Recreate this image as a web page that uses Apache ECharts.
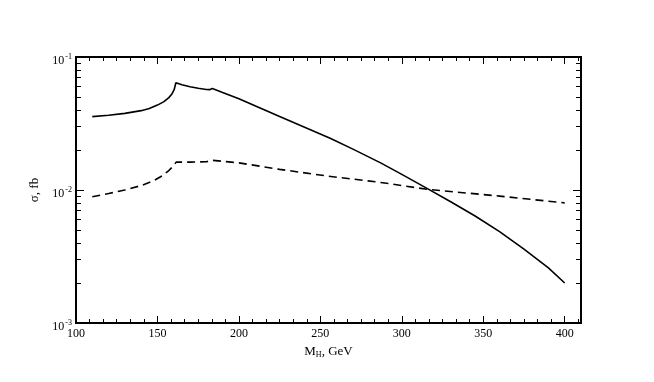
<!DOCTYPE html>
<html>
<head>
    <meta charset="utf-8">
    <title>sigma vs MH</title>
    <script src="https://cdnjs.cloudflare.com/ajax/libs/echarts/6.0.0/echarts.min.js"></script>
</head>
<body style="margin:0;background:#fff">
    <div id="main" style="width:654px;height:382px;"></div>
    <script type="text/javascript">
        // solid curve
        var solidMass = [110, 120, 130, 140, 145, 150, 154, 157, 159, 160.3, 161.3, 165, 170, 175, 180, 182, 183.7, 190, 200, 225, 256, 270, 287, 300, 316, 330, 345, 360, 375, 390, 400];
        var solidSigma = [0.0356, 0.0365, 0.0377, 0.0395, 0.0410, 0.0435, 0.0462, 0.0495, 0.053, 0.057, 0.064, 0.0618, 0.0597, 0.0582, 0.0570, 0.0568, 0.0580, 0.0540, 0.0485, 0.0357, 0.0245, 0.0203, 0.0160, 0.0131, 0.0102, 0.00815, 0.00638, 0.00486, 0.00359, 0.0026, 0.0020];
        // dashed curve
        var dashMass = [110, 120, 130, 140, 148, 153, 157, 160, 161.5, 170, 180, 184, 200, 225, 255, 287, 316, 360, 400];
        var dashSigma = [0.0089, 0.0094, 0.0100, 0.0108, 0.0118, 0.0128, 0.0140, 0.0153, 0.0162, 0.0162, 0.0163, 0.0167, 0.0160, 0.0143, 0.0127, 0.0114, 0.0101, 0.0090, 0.0080];

        var xLabels = [100, 150, 200, 250, 300, 350, 400];
        var yLabels = [0.001, 0.01, 0.1];

        var xMinor = [];
        for (var i = 1; i <= 37; i++) {
            var v = 100 + i * 50 / 6;
            if (i % 6 !== 0 && v < 410) xMinor.push(v);
        }
        var yMinor = [];
        [0.001, 0.01].forEach(function (d) {
            for (var k = 2; k <= 9; k++) yMinor.push(d * k);
        });

        var font = 'Liberation Serif';
        var pairs = function (xs, ys) {
            return xs.map(function (x, i) { return [x, ys[i]]; });
        };

        function xAxis(pos, vals, len, labels) {
            return {
                type: 'value', position: pos, min: 100, max: 410,
                axisLine: { show: true, onZero: false, lineStyle: { color: '#000', width: 2 } },
                axisTick: { show: true, inside: true, length: len, customValues: vals, lineStyle: { color: '#000', width: 1 } },
                axisLabel: labels ? {
                    show: true, customValues: vals, margin: 5,
                    color: '#000', fontFamily: font, fontSize: 12
                } : { show: false },
                splitLine: { show: false }
            };
        }
        function yAxis(pos, vals, len, labels) {
            return {
                type: 'log', logBase: 10, position: pos, min: 0.001, max: 0.1,
                axisLine: { show: true, onZero: false, lineStyle: { color: '#000', width: 2 } },
                axisTick: { show: true, inside: true, length: len, customValues: vals, lineStyle: { color: '#000', width: 1 } },
                axisLabel: labels ? {
                    show: true, customValues: vals, margin: 4,
                    formatter: function (v) {
                        return '{b|10}{s|' + Math.round(Math.log10(v)) + '}';
                    },
                    rich: {
                        b: { fontFamily: font, fontSize: 12, color: '#000', padding: [8, 0, 0, 0] },
                        s: { fontFamily: font, fontSize: 8, color: '#000', padding: [0, 0, 0, 1] }
                    }
                } : { show: false },
                splitLine: { show: false }
            };
        }

        var xa0 = xAxis('bottom', xLabels, 7, true);
        xa0.name = '{a|M}{s|H}{a|, GeV}';
        xa0.nameLocation = 'middle';
        xa0.nameGap = 18;
        xa0.nameTextStyle = {
            rich: {
                a: { fontFamily: font, fontSize: 13, color: '#000' },
                s: { fontFamily: font, fontSize: 8, color: '#000', padding: [8, 0, 0, 0] }
            }
        };
        var ya0 = yAxis('left', yLabels, 8, true);
        ya0.name = 'σ, fb';
        ya0.nameLocation = 'middle';
        ya0.nameGap = 34;
        ya0.nameTextStyle = { fontFamily: font, fontSize: 13, color: '#000' };

        var myChart = echarts.init(document.getElementById('main'));
        var option = {
            animation: false,
            backgroundColor: '#fff',
            grid: { left: 76, right: 73, top: 57, bottom: 59 },
            xAxis: [
                xa0,
                xAxis('bottom', xMinor, 4, false),
                xAxis('top', xLabels, 7, false),
                xAxis('top', xMinor, 4, false)
            ],
            yAxis: [
                ya0,
                yAxis('left', yMinor, 5, false),
                yAxis('right', yLabels, 8, false),
                yAxis('right', yMinor, 5, false)
            ],
            series: [{
                type: 'line',
                showSymbol: false,
                data: pairs(solidMass, solidSigma),
                lineStyle: { color: '#000', width: 1.6 }
            }, {
                type: 'line',
                showSymbol: false,
                data: pairs(dashMass, dashSigma),
                lineStyle: { color: '#000', width: 1.6, type: [8, 5] }
            }]
        };
        myChart.setOption(option);
    </script>
</body>
</html>
